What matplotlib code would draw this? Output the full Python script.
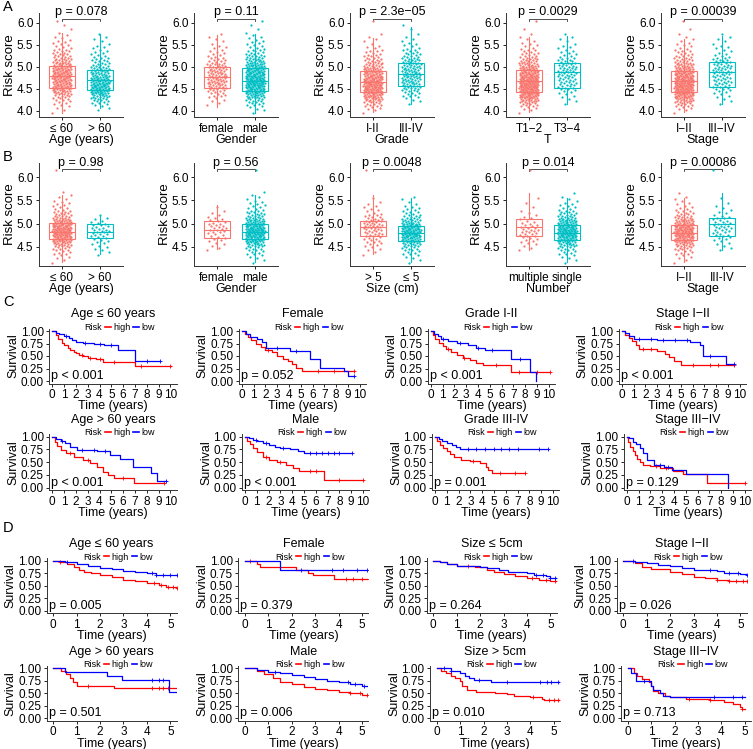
import numpy as np
import matplotlib.pyplot as plt
from matplotlib.lines import Line2D
from matplotlib.transforms import blended_transform_factory

plt.rcParams['font.family'] = ['Liberation Sans', 'DejaVu Sans']
plt.rcParams['axes.linewidth'] = 0.7
plt.rcParams['xtick.major.width'] = 0.6
plt.rcParams['ytick.major.width'] = 0.6
plt.rcParams['xtick.major.size'] = 2.5
plt.rcParams['ytick.major.size'] = 2.5
plt.rcParams['xtick.major.pad'] = 1.5
plt.rcParams['ytick.major.pad'] = 1.5

W, H = 753, 749
BOX_COLORS = ['#F8766D', '#00BFC4']
RED, BLUE = '#FF0000', '#0000FF'

# ---------------- A: risk score by clinical group (TCGA) ----------------
A_XLABELS = ['Age (years)', 'Gender', 'Grade', 'T', 'Stage']
A_CATS = [['≤ 60', '> 60'], ['female', 'male'], ['I-II', 'III-IV'],
          ['T1−2', 'T3−4'], ['I−II', 'III−IV']]
A_PVALS = ['p = 0.078', 'p = 0.11', 'p = 2.3e−05', 'p = 0.0029', 'p = 0.00039']
# q1, median, q3, lower whisker, upper whisker
A_BOX = [[(4.51, 4.79, 5.02, 3.96, 5.76), (4.47, 4.70, 4.94, 4.06, 5.74)],
         [(4.51, 4.78, 4.99, 4.10, 5.72), (4.45, 4.68, 4.97, 3.95, 5.75)],
         [(4.42, 4.66, 4.91, 3.98, 5.65), (4.57, 4.84, 5.08, 4.16, 5.91)],
         [(4.44, 4.68, 4.93, 3.98, 5.67), (4.53, 4.88, 5.09, 4.16, 5.71)],
         [(4.43, 4.67, 4.91, 3.98, 5.63), (4.54, 4.89, 5.10, 4.16, 5.71)]]
# number of patients in 0.1 wide risk score bins, from the first bin edge
A_BIN_START = [[3.9, 4.0], [4.1, 3.9], [3.9, 4.1], [3.9, 4.1], [3.9, 4.1]]
A_COUNTS = [
    [[1, 2, 4, 6, 10, 15, 20, 20, 22, 22, 20, 15, 12, 9, 7, 5, 4, 3, 2, 1, 1, 1],
     [2, 5, 9, 14, 20, 22, 21, 18, 15, 12, 9, 7, 5, 4, 3, 2, 2, 1]],
    [[2, 3, 5, 8, 12, 14, 14, 13, 12, 10, 7, 5, 4, 3, 2, 2, 1],
     [1, 3, 6, 10, 16, 22, 26, 28, 27, 24, 22, 18, 14, 10, 7, 5, 4, 3, 2, 1, 1, 1]],
    [[1, 4, 8, 14, 20, 26, 28, 27, 24, 20, 16, 12, 9, 7, 5, 3, 2, 2, 1, 0, 0, 1],
     [1, 3, 5, 8, 11, 13, 14, 14, 13, 12, 10, 8, 6, 4, 3, 2, 1, 1, 1]],
    [[1, 4, 9, 16, 24, 30, 32, 32, 28, 24, 19, 15, 11, 8, 6, 4, 3, 2, 1, 1, 0, 1],
     [1, 2, 3, 5, 8, 9, 9, 10, 10, 9, 7, 5, 4, 3, 2, 2, 1]],
    [[1, 4, 9, 15, 23, 29, 31, 30, 27, 23, 18, 14, 10, 8, 5, 4, 3, 2, 1, 1, 0, 1],
     [1, 2, 3, 5, 7, 9, 9, 9, 10, 9, 7, 5, 3, 3, 2, 2, 1]],
]

# ---------------- B: risk score by clinical group (ICGC) ----------------
B_XLABELS = ['Age (years)', 'Gender', 'Size (cm)', 'Number', 'Stage']
B_CATS = [['≤ 60', '> 60'], ['female', 'male'], ['> 5', '≤ 5'],
          ['multiple', 'single'], ['I−II', 'III-IV']]
B_PVALS = ['p = 0.98', 'p = 0.56', 'p = 0.0048', 'p = 0.014', 'p = 0.00086']
B_BOX = [[(4.67, 4.82, 5.01, 4.16, 5.62), (4.68, 4.82, 4.98, 4.33, 5.16)],
         [(4.68, 4.86, 5.05, 4.44, 5.40), (4.67, 4.82, 5.00, 4.16, 5.62)],
         [(4.72, 4.92, 5.05, 4.33, 5.62), (4.63, 4.79, 4.95, 4.16, 5.55)],
         [(4.72, 4.92, 5.10, 4.43, 5.66), (4.65, 4.79, 4.97, 4.16, 5.55)],
         [(4.64, 4.80, 4.96, 4.16, 5.55), (4.74, 4.98, 5.12, 4.43, 5.66)]]
B_BIN_START = [[4.1, 4.3], [4.4, 4.1], [4.3, 4.1], [4.4, 4.1], [4.1, 4.4]]
B_COUNTS = [
    [[1, 3, 5, 8, 14, 22, 28, 30, 26, 18, 12, 8, 5, 4, 2, 2, 0, 0, 0, 0, 1],
     [2, 3, 3, 5, 7, 8, 6, 4, 2]],
    [[2, 3, 4, 5, 7, 7, 5, 3, 2, 1],
     [1, 3, 5, 8, 14, 22, 28, 30, 26, 18, 12, 8, 5, 4, 2, 2, 0, 0, 0, 0, 1]],
    [[2, 3, 5, 6, 8, 10, 12, 10, 7, 4, 3, 2, 1, 0, 0, 0, 0, 0, 1],
     [1, 3, 5, 8, 12, 20, 26, 26, 22, 14, 9, 6, 4, 2, 2]],
    [[2, 3, 5, 7, 8, 6, 4, 3, 2, 1, 1, 1, 0, 0, 0, 0, 0, 1],
     [1, 3, 5, 8, 13, 21, 28, 30, 25, 18, 12, 8, 5, 3, 2, 1]],
    [[1, 3, 5, 9, 14, 22, 28, 29, 25, 17, 11, 7, 4, 3, 2, 1],
     [2, 3, 4, 6, 7, 8, 6, 5, 3, 2, 1, 1, 0, 0, 0, 0, 0, 1]],
]

# ---------------- C: Kaplan-Meier, 10 years (TCGA) ----------------
C_TITLES = ['Age ≤ 60 years', 'Female', 'Grade I-II', 'Stage I−II',
            'Age > 60 years', 'Male', 'Grade III-IV', 'Stage III−IV']
C_PVALS = ['p < 0.001', 'p = 0.052', 'p < 0.001', 'p < 0.001',
           'p < 0.001', 'p < 0.001', 'p = 0.001', 'p = 0.129']
C_HIGH_T = [
    [0, 0.3, 0.5, 0.8, 1.0, 1.3, 1.5, 1.8, 2.0, 2.3, 2.6, 3.0, 3.3, 3.7, 4.3, 7.0, 10.1],
    [0, 0.3, 0.5, 0.8, 1.2, 1.6, 2.0, 2.6, 3.0, 3.5, 3.9, 4.3, 4.6, 5.1, 9.5],
    [0, 0.2, 0.4, 0.7, 1.0, 1.3, 1.7, 2.2, 2.7, 3.3, 3.8, 4.4, 6.8, 10.1],
    [0, 0.3, 0.6, 0.9, 1.2, 1.5, 3.0, 3.7, 4.0, 4.4, 5.0, 9.5],
    [0, 0.2, 0.4, 0.7, 1.2, 1.8, 2.6, 3.2, 3.8, 4.3, 4.7, 5.2, 6.9, 9.5],
    [0, 0.2, 0.4, 0.7, 1.0, 1.5, 2.0, 2.7, 3.5, 4.1, 4.6, 6.7, 10.0],
    [0, 0.2, 0.4, 0.7, 1.0, 1.3, 1.6, 2.2, 3.0, 3.8, 4.3, 4.5, 4.8, 7.6],
    [0, 0.15, 0.3, 0.5, 0.7, 0.9, 1.1, 1.4, 2.0, 2.8, 3.9, 4.8, 6.8, 10.0],
]
C_HIGH_S = [
    [1, 0.93, 0.85, 0.77, 0.72, 0.66, 0.62, 0.58, 0.56, 0.53, 0.51, 0.47, 0.46, 0.45, 0.39, 0.30, 0.30],
    [1, 0.95, 0.89, 0.82, 0.75, 0.68, 0.63, 0.58, 0.50, 0.45, 0.40, 0.35, 0.27, 0.20, 0.20],
    [1, 0.92, 0.85, 0.76, 0.70, 0.64, 0.58, 0.53, 0.47, 0.42, 0.37, 0.33, 0.18, 0.18],
    [1, 0.93, 0.86, 0.80, 0.72, 0.65, 0.61, 0.55, 0.48, 0.40, 0.32, 0.32],
    [1, 0.90, 0.82, 0.74, 0.67, 0.60, 0.54, 0.48, 0.41, 0.30, 0.24, 0.20, 0.10, 0.10],
    [1, 0.92, 0.85, 0.77, 0.70, 0.61, 0.55, 0.50, 0.45, 0.39, 0.32, 0.16, 0.16],
    [1, 0.92, 0.84, 0.77, 0.71, 0.65, 0.60, 0.54, 0.52, 0.48, 0.41, 0.34, 0.28, 0.28],
    [1, 0.90, 0.80, 0.72, 0.64, 0.57, 0.50, 0.45, 0.42, 0.38, 0.32, 0.26, 0.10, 0.10],
]
C_LOW_T = [
    [0, 0.3, 0.6, 1.0, 1.4, 1.7, 2.0, 2.6, 3.5, 4.4, 5.6, 7.0, 9.1],
    [0, 0.4, 0.7, 1.3, 1.7, 2.1, 4.1, 5.8, 6.6, 8.7, 9.0, 9.5],
    [0, 0.3, 0.6, 0.9, 1.5, 2.2, 3.2, 3.8, 4.6, 6.8, 8.4, 8.9],
    [0, 0.3, 0.6, 1.0, 3.0, 5.8, 6.6, 6.9, 8.8, 9.5],
    [0, 0.3, 0.7, 1.1, 1.5, 2.1, 3.8, 4.9, 5.7, 6.8, 8.4, 8.9, 9.6],
    [0, 0.3, 0.7, 1.0, 1.5, 2.0, 2.5, 3.0, 3.8, 4.5, 5.0, 9.1],
    [0, 0.3, 0.6, 1.0, 1.4, 1.8, 2.1, 9.6],
    [0, 0.2, 0.5, 0.8, 1.1, 1.4, 1.7, 2.3, 3.2, 3.8, 5.0, 8.6],
]
C_LOW_S = [
    [1, 0.97, 0.94, 0.90, 0.86, 0.82, 0.78, 0.77, 0.75, 0.72, 0.62, 0.41, 0.41],
    [1, 0.95, 0.88, 0.85, 0.78, 0.67, 0.61, 0.45, 0.27, 0.20, 0.10, 0.10],
    [1, 0.95, 0.90, 0.85, 0.80, 0.76, 0.72, 0.67, 0.62, 0.45, 0.18, 0.0],
    [1, 0.96, 0.90, 0.85, 0.82, 0.78, 0.72, 0.50, 0.35, 0.35],
    [1, 0.95, 0.91, 0.87, 0.80, 0.74, 0.71, 0.64, 0.56, 0.40, 0.29, 0.14, 0.14],
    [1, 0.97, 0.94, 0.91, 0.88, 0.84, 0.80, 0.78, 0.76, 0.72, 0.68, 0.68],
    [1, 0.96, 0.92, 0.88, 0.84, 0.80, 0.75, 0.75],
    [1, 0.97, 0.90, 0.85, 0.77, 0.67, 0.55, 0.44, 0.40, 0.35, 0.27, 0.0],
]
C_HIGH_CENS = [[2.5, 3.2, 4.0, 5.2, 7.5, 10.0], [2.2, 6.5, 7.8, 9.5],
               [1.5, 2.8, 5.5, 7.5, 9.0, 10.1], [1.8, 2.5, 6.0, 7.5, 8.2, 9.5],
               [1.5, 3.0, 6.0, 9.5], [1.8, 3.0, 5.5, 6.0, 8.0, 10.0],
               [3.2, 5.5, 6.8, 7.6], [2.5, 3.3, 10.0]]
C_LOW_CENS = [[1.2, 2.8, 4.0, 5.0, 8.0, 9.1], [3.0, 4.6, 9.5],
              [1.0, 2.5, 4.0, 5.2, 7.6], [1.5, 2.5, 3.5, 4.5, 5.5, 7.5, 9.5],
              [0.8, 2.5, 3.5, 4.5, 9.6], [0.9, 1.8, 3.2, 5.5, 6.0, 6.5, 7.0, 7.5, 8.0, 9.1],
              [2.8, 3.5, 4.2, 5.0, 5.6, 6.3, 7.0, 8.8, 9.6], [2.8, 3.5]]

# ---------------- D: Kaplan-Meier, 5 years (ICGC) ----------------
D_TITLES = ['Age ≤ 60 years', 'Female', 'Size ≤ 5cm', 'Stage I−II',
            'Age > 60 years', 'Male', 'Size > 5cm', 'Stage III−IV']
D_PVALS = ['p = 0.005', 'p = 0.379', 'p = 0.264', 'p = 0.026',
           'p = 0.501', 'p = 0.006', 'p = 0.010', 'p = 0.713']
D_HIGH_T = [
    [0, 0.3, 0.6, 0.9, 1.1, 1.3, 1.6, 2.0, 2.5, 3.0, 3.5, 4.0, 4.5, 4.8, 5.3],
    [0, 0.5, 0.65, 2.2, 2.7, 2.9, 3.8, 5.3],
    [0, 0.3, 0.6, 1.0, 1.8, 2.3, 2.6, 3.0, 3.5, 4.0, 4.5, 5.0, 5.3],
    [0, 0.5, 0.8, 1.2, 2.0, 2.5, 3.0, 3.5, 4.0, 4.5, 5.3],
    [0, 0.35, 0.55, 0.7, 0.85, 1.0, 2.6, 5.3],
    [0, 0.5, 0.8, 1.2, 1.5, 2.0, 2.5, 3.0, 3.5, 4.0, 4.5, 5.0, 5.3],
    [0, 0.2, 0.4, 0.6, 0.8, 1.0, 1.1, 1.3, 1.7, 2.5, 3.0, 3.3, 4.0, 4.5, 4.6, 5.3],
    [0, 0.25, 0.4, 0.6, 0.9, 1.0, 1.1, 1.3, 1.6, 1.8, 2.5, 3.5, 4.1, 4.5, 4.8, 4.9, 5.0],
]
D_HIGH_S = [
    [1, 0.97, 0.93, 0.88, 0.82, 0.78, 0.75, 0.72, 0.67, 0.62, 0.59, 0.55, 0.52, 0.47, 0.46],
    [1, 0.94, 0.88, 0.82, 0.76, 0.71, 0.64, 0.64],
    [1, 0.97, 0.93, 0.90, 0.87, 0.82, 0.78, 0.73, 0.70, 0.65, 0.62, 0.59, 0.59],
    [1, 0.95, 0.88, 0.83, 0.78, 0.73, 0.68, 0.65, 0.62, 0.60, 0.60],
    [1, 0.95, 0.88, 0.80, 0.72, 0.65, 0.61, 0.61],
    [1, 0.95, 0.88, 0.80, 0.72, 0.68, 0.63, 0.58, 0.56, 0.53, 0.50, 0.47, 0.47],
    [1, 0.95, 0.90, 0.85, 0.80, 0.75, 0.65, 0.56, 0.53, 0.50, 0.48, 0.45, 0.42, 0.38, 0.36, 0.36],
    [1, 0.90, 0.85, 0.78, 0.72, 0.65, 0.55, 0.50, 0.45, 0.42, 0.38, 0.36, 0.33, 0.28, 0.22, 0.18, 0.18],
]
D_LOW_T = [
    [0, 0.5, 1.0, 1.5, 2.0, 2.5, 3.0, 3.5, 4.0, 4.4, 5.3],
    [0, 1.5, 5.3],
    [0, 0.3, 0.6, 1.0, 2.0, 2.3, 2.8, 3.2, 4.0, 4.3, 4.8, 5.0, 5.3],
    [0, 0.5, 1.0, 1.5, 2.0, 2.5, 3.0, 4.0, 4.3, 5.0, 5.3],
    [0, 0.5, 2.3, 2.95, 4.95, 5.3],
    [0, 0.5, 1.0, 1.5, 2.0, 2.5, 3.0, 3.5, 4.0, 4.5, 5.0, 5.3],
    [0, 0.6, 1.0, 1.2, 1.4, 1.6, 2.3, 5.3],
    [0, 0.15, 0.35, 1.0, 1.1, 1.4, 1.5, 1.8, 5.0],
]
D_LOW_S = [
    [1, 0.97, 0.93, 0.89, 0.86, 0.83, 0.79, 0.77, 0.75, 0.71, 0.71],
    [1, 0.82, 0.82],
    [1, 0.97, 0.93, 0.90, 0.88, 0.85, 0.82, 0.78, 0.76, 0.72, 0.70, 0.66, 0.66],
    [1, 0.98, 0.96, 0.92, 0.90, 0.86, 0.82, 0.80, 0.76, 0.74, 0.72],
    [1, 0.92, 0.85, 0.77, 0.52, 0.52],
    [1, 0.97, 0.92, 0.90, 0.86, 0.83, 0.78, 0.75, 0.72, 0.68, 0.65, 0.65],
    [1, 0.95, 0.90, 0.85, 0.80, 0.76, 0.72, 0.72],
    [1, 0.90, 0.75, 0.65, 0.57, 0.50, 0.45, 0.42, 0.42],
]
D_HIGH_CENS = [[0.3, 4.3, 4.6, 4.9, 5.1, 5.3], [0.2, 4.3, 4.6, 5.0, 5.3],
               [1.5, 4.2, 4.8, 5.2], [4.0, 4.5, 4.8, 5.1, 5.3],
               [1.5, 4.2, 4.5, 4.7, 4.9], [4.5, 4.9, 5.2],
               [4.1, 4.8, 5.0, 5.2], [2.6, 3.5, 4.9]]
D_LOW_CENS = [[0.6, 4.2, 4.4, 4.7, 5.0, 5.3], [2.4, 3.7, 4.2, 4.8, 5.2],
              [4.4, 4.7, 5.0, 5.2], [0.4, 3.7, 4.5, 4.9, 5.3],
              [4.2, 4.5, 4.7], [1.3, 4.4, 4.7, 5.1],
              [0.3, 0.6, 1.8, 3.0, 4.4, 4.7, 4.9, 5.2], [0.7, 3.7, 4.5, 4.9]]


def px_axes(fig, left, top, width, height):
    return fig.add_axes([left / W, 1 - (top + height) / H, width / W, height / H])


def classic(ax):
    for side in ['top', 'right']:
        ax.spines[side].set_visible(False)
    for side in ['left', 'bottom']:
        ax.spines[side].set_color('#333333')


def draw_box(ax, cats, xlabel, pval, box, starts, counts, ylim, yticks, bracket):
    classic(ax)
    stats = [dict(q1=b[0], med=b[1], q3=b[2], whislo=b[3], whishi=b[4], fliers=[])
             for b in box]
    parts = ax.bxp(stats, positions=[1, 2], widths=0.7, showfliers=False,
                   showcaps=False, patch_artist=True)
    for g in range(2):
        col = BOX_COLORS[g]
        parts['boxes'][g].set(facecolor='white', edgecolor=col, linewidth=0.8)
        parts['medians'][g].set(color=col, linewidth=0.8)
        for w in parts['whiskers'][2 * g:2 * g + 2]:
            w.set(color=col, linewidth=0.8)
        ys = []
        for b, n in enumerate(counts[g]):
            lo = starts[g] + 0.1 * b
            for j in range(n):
                ys.append(lo + 0.1 * (j + 0.5) / n)
        ys = np.array(ys)
        offs = ((np.arange(len(ys)) * 0.618034 + 0.37 * g) % 1 - 0.5) * 0.5
        ax.scatter(g + 1 + offs, ys, s=2.6, color=col, linewidths=0, zorder=3)
    ax.set_xlim(0.4, 2.6)
    ax.set_ylim(*ylim)
    ax.set_yticks(yticks)
    ax.set_yticklabels(['%.1f' % v for v in yticks], fontsize=8.5)
    ax.set_xticks([1, 2])
    ax.set_xticklabels(cats, fontsize=8.5)
    ax.set_xlabel(xlabel, fontsize=9, labelpad=-0.5)
    ax.set_ylabel('Risk score', fontsize=9.5, labelpad=1)
    # comparison bracket
    drop = 0.05
    ax.plot([1, 1, 2, 2], [bracket - drop, bracket, bracket, bracket - drop],
            color='#333333', lw=0.6, clip_on=False)
    ax.annotate(pval, (1.5, bracket), xytext=(0, 0.3), textcoords='offset points',
                ha='center', va='bottom', fontsize=9, annotation_clip=False)


def draw_km(ax, title, pval, ht, hs, lt, ls, hc, lc, xlim, xticks):
    classic(ax)
    for t, s, cens, col in [(ht, hs, hc, RED), (lt, ls, lc, BLUE)]:
        t = np.array(t)
        s = np.array(s)
        ax.step(t, s, where='post', color=col, lw=0.9)
        idx = np.searchsorted(t, cens, side='right') - 1
        ax.plot(cens, s[idx], ls='none', marker='+', ms=2.5, mew=0.6, color=col)
    ax.set_xlim(*xlim)
    ax.set_ylim(-0.05, 1.05)
    ax.set_yticks([0, 0.25, 0.5, 0.75, 1.0])
    ax.set_yticklabels(['0.00', '0.25', '0.50', '0.75', '1.00'], fontsize=8.5)
    ax.set_xticks(xticks)
    ax.set_xticklabels([str(v) for v in xticks], fontsize=8.5)
    ax.set_xlabel('Time (years)', fontsize=9, labelpad=-0.5)
    ax.set_ylabel('Survival', fontsize=9, labelpad=1)
    ax.set_title(title, fontsize=9, pad=8)
    tr = blended_transform_factory(ax.transAxes, ax.transData)
    ax.text(0.015, 0.1, pval, transform=tr, ha='left', va='center', fontsize=9)
    handles = [Line2D([], [], ls='none', label='Risk'),
               Line2D([], [], color=RED, lw=1.2, label='high'),
               Line2D([], [], color=BLUE, lw=1.2, label='low')]
    ax.legend(handles=handles, ncol=3, loc='center', bbox_to_anchor=(0.52, 1.02),
              frameon=False, fontsize=6.5, handlelength=0.6, handletextpad=0.25,
              columnspacing=0.35, borderpad=0, borderaxespad=0)


fig = plt.figure(figsize=(W / 100, H / 100), dpi=100)

box_lefts = [39, 194, 350, 506, 661]
for i in range(5):
    ax = px_axes(fig, box_lefts[i], 13, 84, 104)
    draw_box(ax, A_CATS[i], A_XLABELS[i], A_PVALS[i], A_BOX[i], A_BIN_START[i],
             A_COUNTS[i], (3.864, 6.22), [4.0, 4.5, 5.0, 5.5, 6.0], 6.09)
for i in range(5):
    ax = px_axes(fig, box_lefts[i], 163, 84, 103)
    draw_box(ax, B_CATS[i], B_XLABELS[i], B_PVALS[i], B_BOX[i], B_BIN_START[i],
             B_COUNTS[i], (4.08, 6.31), [4.5, 5.0, 5.5, 6.0], 6.18)

# KM panels: pixel position of time zero per panel, px per year
c_zero = [[52.3, 241.7, 430.7, 621.7], [52.3, 245, 435, 626.7]]
c_tops = [328.5, 434]
c_heights = [55, 56.3]
c_xlim = (-0.25, 10.55)
c_scale = 11.8
for r in range(2):
    for c in range(4):
        k = r * 4 + c
        left = c_zero[r][c] + c_xlim[0] * c_scale
        ax = px_axes(fig, left, c_tops[r], (c_xlim[1] - c_xlim[0]) * c_scale, c_heights[r])
        draw_km(ax, C_TITLES[k], C_PVALS[k], C_HIGH_T[k], C_HIGH_S[k], C_LOW_T[k],
                C_LOW_S[k], C_HIGH_CENS[k], C_LOW_CENS[k], c_xlim, list(range(11)))

d_zero = [[53.3, 245, 433.3, 623.3], [53.3, 245, 436.7, 627.7]]
d_tops = [558.2, 665.8]
d_xlim = (-0.28, 5.27)
d_scale = 23.4
for r in range(2):
    for c in range(4):
        k = r * 4 + c
        left = d_zero[r][c] + d_xlim[0] * d_scale
        ax = px_axes(fig, left, d_tops[r], (d_xlim[1] - d_xlim[0]) * d_scale, 55)
        draw_km(ax, D_TITLES[k], D_PVALS[k], D_HIGH_T[k], D_HIGH_S[k], D_LOW_T[k],
                D_LOW_S[k], D_HIGH_CENS[k], D_LOW_CENS[k], d_xlim, list(range(6)))

for letter, y in [('A', 7), ('B', 157), ('C', 302), ('D', 528)]:
    fig.text(3 / W, 1 - y / H, letter, fontsize=10.5, ha='left', va='center')

fig.savefig('out.png', dpi=100)
